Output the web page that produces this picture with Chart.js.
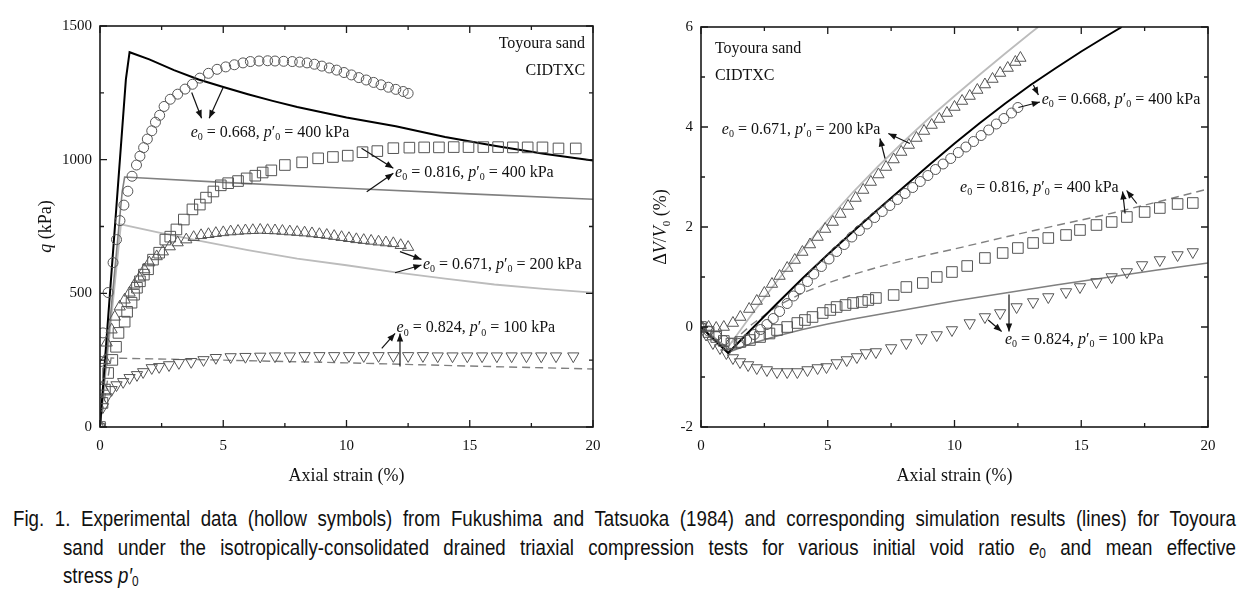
<!DOCTYPE html>
<html>
<head>
<meta charset="utf-8">
<script src="https://cdn.jsdelivr.net/npm/chart.js@4.4.1/dist/chart.umd.min.js"></script>
<style>
  body { margin: 0; background: #fff; width: 1245px; height: 599px; overflow: hidden; position: relative; }
  canvas { position: absolute; top: 0; }
  #cL { left: 0; }
  #cR { left: 620px; }
  .cap { position: absolute; font-family: "Liberation Sans Narrow", "Liberation Sans", Arial, sans-serif;
         font-size: 22px; line-height: 28px; white-space: nowrap; color: #111; }
  .cap span { display: inline-block; transform-origin: 0 0; }
  .cap sub { font-size: 14px; vertical-align: -3px; line-height: 0; }
</style>
</head>
<body>
<canvas id="cL" width="620" height="500"></canvas>
<canvas id="cR" width="625" height="500"></canvas>
<div class="cap" id="l1" style="left:13px;top:505px" data-w="1223"><span>Fig. 1. Experimental data (hollow symbols) from Fukushima and Tatsuoka (1984) and corresponding simulation results (lines) for Toyoura</span></div>
<div class="cap" id="l2" style="left:63px;top:534px" data-w="1173"><span>sand under the isotropically-consolidated drained triaxial compression tests for various initial void ratio <i>e</i><sub>0</sub> and mean effective</span></div>
<div class="cap" id="l3" style="left:63px;top:562px"><span>stress <i>p′</i><sub>0</sub></span></div>
<script>
// --- data: [axial strain %, value] ---
// left panel: deviator stress q (kPa)
const qCircle668 = [[0,0],[0.02,245],[0.12,352],[0.33,503],[0.53,615],[0.67,701],[0.81,772],[0.97,830],[1.13,882],[1.3,938],[1.48,980],[1.62,1013],[1.77,1045],[1.92,1077],[2.1,1108],[2.25,1140],[2.42,1166],[2.6,1199],[2.85,1226],[3.15,1245],[3.45,1264],[3.75,1282],[4.05,1305],[4.4,1323],[4.75,1338],[5.1,1347],[5.45,1355],[5.8,1362],[6.1,1367],[6.45,1369],[6.8,1370],[7.1,1369],[7.45,1368],[7.8,1367],[8.1,1365],[8.4,1362],[8.7,1357],[9.0,1350],[9.3,1343],[9.6,1335],[9.9,1326],[10.2,1317],[10.5,1307],[10.8,1298],[11.1,1289],[11.4,1280],[11.7,1271],[12.0,1263],[12.3,1255],[12.5,1248]];
const qLine668 = [[0,0],[1.05,1300],[1.2,1402],[2,1375],[3,1335],[4,1300],[5,1272],[6,1245],[7,1220],[8,1197],[9,1177],[10,1158],[12,1125],[14,1085],[16,1052],[18,1022],[20,997]];
const qSquare816 = [[0,0],[0.1,90],[0.2,140],[0.33,202],[0.5,251],[0.65,300],[0.75,352],[1.0,394],[1.1,431],[1.28,465],[1.38,495],[1.5,521],[1.62,545],[1.78,570],[1.95,590],[2.15,626],[2.4,652],[2.65,701],[2.85,712],[3.1,739],[3.4,776],[3.75,814],[4.05,832],[4.3,858],[4.6,881],[4.9,904],[5.2,912],[5.6,920],[5.95,930],[6.3,940],[6.6,952],[6.95,960],[7.5,980],[8.2,990],[8.85,1005],[9.45,1010],[10.05,1015],[10.65,1028],[11.25,1032],[11.9,1043],[12.55,1045],[13.15,1046],[13.75,1046],[14.35,1047],[14.95,1047],[15.55,1047],[16.15,1047],[16.75,1046],[17.35,1046],[17.95,1046],[18.6,1042],[19.3,1042]];
const qLine816 = [[0,0],[0.9,880],[1.0,935],[5,915],[10,893],[15,872],[20,852]];
const qTri671 = [[0,0],[0.1,150],[0.2,250],[0.27,315],[0.47,364],[0.6,412],[0.8,450],[1.0,476],[1.2,502],[1.4,532],[1.6,558],[1.8,589],[2.0,615],[2.3,638],[2.55,656],[2.83,675],[3.15,690],[3.5,701],[3.8,710],[4.1,717],[4.4,721],[4.7,725],[5.0,728],[5.3,731],[5.6,733],[5.9,735],[6.2,736],[6.5,737],[6.8,736],[7.1,735],[7.4,733],[7.7,731],[8.0,729],[8.3,727],[8.6,724],[8.9,721],[9.2,718],[9.5,714],[9.8,710],[10.1,706],[10.4,702],[10.7,699],[11.0,696],[11.3,693],[11.6,690],[11.9,687],[12.2,680],[12.5,673]];
const qLine671 = [[0,0],[0.85,758],[2.4,727],[4,697],[6,662],[8,630],[10,605],[12,578],[14,555],[16,533],[18,517],[20,503]];
const qTriDown824 = [[0,0],[0.12,75],[0.27,112],[0.47,139],[0.67,157],[0.94,169],[1.2,184],[1.5,195],[1.75,206],[2.1,221],[2.4,225],[2.8,232],[3.2,240],[3.7,244],[4.2,251],[4.7,259],[5.3,262],[5.9,263],[6.5,264],[7.1,265],[7.7,265],[8.3,266],[8.9,266],[9.5,266],[10.1,266],[10.7,266],[11.3,266],[11.9,266],[12.5,266],[13.1,266],[13.7,265],[14.3,265],[14.9,265],[15.5,265],[16.1,265],[16.7,265],[17.3,265],[17.9,265],[18.5,265],[19.2,265]];
const qLine824 = [[0,0],[0.45,258],[5,250],[10,240],[15,228],[20,217]];

// right panel: volumetric strain dV/V0 (%)
const vCircle668 = [[0,0],[0.3,-0.08],[0.6,-0.18],[0.9,-0.27],[1.2,-0.33],[1.5,-0.33],[1.8,-0.26],[2.1,-0.15],[2.35,-0.05],[2.6,0.05],[2.85,0.17],[3.1,0.31],[3.4,0.47],[3.65,0.62],[3.9,0.76],[4.2,0.91],[4.45,1.06],[4.75,1.21],[5.05,1.36],[5.35,1.51],[5.65,1.65],[5.95,1.8],[6.25,1.93],[6.55,2.06],[6.85,2.19],[7.15,2.31],[7.45,2.43],[7.75,2.55],[8.05,2.67],[8.35,2.79],[8.65,2.91],[8.95,3.03],[9.25,3.15],[9.55,3.26],[9.85,3.37],[10.15,3.49],[10.45,3.6],[10.75,3.71],[11.05,3.83],[11.35,3.94],[11.65,4.06],[11.95,4.17],[12.25,4.28],[12.5,4.39]];
const vLine668 = [[0,0],[1.07,-0.52],[2,-0.04],[3,0.47],[4,0.97],[5,1.45],[6,1.91],[7,2.36],[8,2.8],[9,3.24],[10,3.67],[11,4.08],[12,4.47],[13,4.84],[14,5.18],[15,5.51],[16,5.82],[16.6,6.0]];
const vSquare816 = [[0,0],[0.3,-0.1],[0.6,-0.2],[0.9,-0.28],[1.2,-0.33],[1.55,-0.3],[1.93,-0.26],[2.33,-0.2],[2.7,-0.13],[3.0,-0.06],[3.4,0],[3.8,0.08],[4.1,0.14],[4.4,0.2],[4.8,0.28],[5.1,0.34],[5.35,0.4],[5.7,0.44],[6.0,0.48],[6.35,0.5],[6.6,0.54],[6.9,0.58],[7.6,0.64],[8.1,0.8],[8.75,0.88],[9.3,1.0],[9.9,1.1],[10.5,1.22],[11.2,1.38],[11.9,1.48],[12.5,1.58],[13.1,1.68],[13.7,1.78],[14.4,1.84],[14.95,1.94],[15.6,2.04],[16.2,2.1],[16.8,2.2],[17.5,2.3],[18.1,2.38],[18.8,2.46],[19.4,2.48]];
const vLine816 = [[0,0],[1.0,-0.4],[2,0.05],[3,0.42],[4,0.68],[5,0.88],[6,1.05],[7,1.2],[8,1.33],[9,1.45],[10,1.56],[12,1.8],[14,2.03],[16,2.25],[18,2.5],[20,2.76]];
const vTri671 = [[0,0],[0.3,0],[0.6,-0.02],[0.9,0],[1.26,0.08],[1.55,0.2],[1.9,0.36],[2.2,0.52],[2.5,0.68],[2.8,0.86],[3.1,1.02],[3.4,1.18],[3.7,1.34],[4.0,1.5],[4.3,1.65],[4.6,1.8],[4.9,1.96],[5.2,2.1],[5.5,2.26],[5.8,2.42],[6.1,2.58],[6.4,2.74],[6.7,2.9],[7.0,3.05],[7.3,3.2],[7.6,3.35],[7.9,3.5],[8.2,3.64],[8.5,3.78],[8.8,3.92],[9.1,4.04],[9.4,4.16],[9.7,4.28],[10.0,4.4],[10.3,4.52],[10.6,4.62],[10.9,4.74],[11.2,4.85],[11.5,4.96],[11.8,5.08],[12.1,5.18],[12.4,5.3],[12.6,5.38]];
const vLine671 = [[0,0],[1.0,-0.45],[2,0.25],[3,0.92],[4,1.55],[5,2.14],[6,2.7],[7,3.22],[8,3.71],[9,4.18],[10,4.62],[11,5.05],[12,5.47],[13,5.88],[13.3,6.0]];
const vTriDown824 = [[0,0],[0.2,-0.15],[0.47,-0.32],[0.75,-0.42],[1.0,-0.52],[1.26,-0.62],[1.54,-0.7],[1.86,-0.76],[2.2,-0.82],[2.6,-0.86],[3.0,-0.9],[3.4,-0.9],[3.8,-0.9],[4.2,-0.86],[4.6,-0.82],[4.95,-0.8],[5.35,-0.72],[5.75,-0.66],[6.15,-0.6],[6.5,-0.52],[6.9,-0.5],[7.5,-0.42],[8.1,-0.32],[8.7,-0.22],[9.3,-0.16],[9.9,-0.06],[10.6,0.08],[11.2,0.2],[11.8,0.28],[12.45,0.4],[13.1,0.5],[13.7,0.6],[14.4,0.7],[14.95,0.8],[15.6,0.9],[16.2,1.0],[16.8,1.1],[17.4,1.24],[18.1,1.34],[18.8,1.44],[19.4,1.5]];
const vLine824 = [[0,0],[1.1,-0.5],[2,-0.33],[3,-0.18],[4,-0.05],[5,0.06],[6,0.16],[7,0.25],[8,0.34],[9,0.43],[10,0.52],[12,0.68],[14,0.84],[16,0.99],[18,1.14],[20,1.28]];

// axis ranges / ticks
const strainRange = [0, 20], strainStep = 5, strainMinor = 2.5;
const qRange = [0, 1500], qStep = 500, qMinor = 250;
const vRange = [-2, 6], vStep = 2, vMinor = 1;

// test labels: void ratio, p'0 (kPa)
const testE0 = { c668: '0.668', s816: '0.816', t671: '0.671', d824: '0.824' };
const testP0 = { c668: 400, s816: 400, t671: 200, d824: 100 };

const SERIF = '"Liberation Serif", "Times New Roman", serif';

function lab(k) {
  return [{t:'e',i:1},{t:'0',s:1},{t:' = ' + testE0[k] + ', '},{t:'p',i:1},{t:'′'},{t:'0',s:1},{t:' = ' + testP0[k] + ' kPa'}];
}

function drawRich(ctx, segs, x, y, size, align) {
  const fontOf = s => (s.i ? 'italic ' : '') + (s.s ? Math.round(size * 0.62) : size) + 'px ' + SERIF;
  let w = 0;
  for (const s of segs) { ctx.font = fontOf(s); w += ctx.measureText(s.t).width; }
  let cx = align === 'right' ? x - w : align === 'center' ? x - w / 2 : x;
  ctx.textAlign = 'left';
  ctx.textBaseline = 'alphabetic';
  ctx.fillStyle = '#111';
  for (const s of segs) {
    ctx.font = fontOf(s);
    ctx.fillText(s.t, cx, y + size * 0.33 + (s.s ? size * 0.22 : 0));
    cx += ctx.measureText(s.t).width;
  }
}

function arrow(ctx, x1, y1, x2, y2) {
  ctx.beginPath(); ctx.moveTo(x1, y1); ctx.lineTo(x2, y2); ctx.stroke();
  const a = Math.atan2(y2 - y1, x2 - x1), L = 8, W = 3.2;
  ctx.beginPath();
  ctx.moveTo(x2, y2);
  ctx.lineTo(x2 - L * Math.cos(a) + W * Math.sin(a), y2 - L * Math.sin(a) - W * Math.cos(a));
  ctx.lineTo(x2 - L * Math.cos(a) - W * Math.sin(a), y2 - L * Math.sin(a) + W * Math.cos(a));
  ctx.closePath(); ctx.fill();
}

// frame, inward ticks, axis titles and annotations
const deco = {
  id: 'deco',
  afterDraw(chart, args, o) {
    const ctx = chart.ctx, a = chart.chartArea, xs = chart.scales.x, ys = chart.scales.y;
    ctx.save();
    ctx.strokeStyle = '#1a1a1a';
    ctx.lineWidth = 1.6;
    ctx.strokeRect(a.left, a.top, a.right - a.left, a.bottom - a.top);
    ctx.lineWidth = 1.3;
    for (let v = xs.min; v <= xs.max + 1e-9; v += o.xMinor) {
      const len = Math.abs(v / o.xMajor - Math.round(v / o.xMajor)) < 1e-6 ? 7 : 4;
      const p = xs.getPixelForValue(v);
      ctx.beginPath();
      ctx.moveTo(p, a.bottom); ctx.lineTo(p, a.bottom - len);
      ctx.moveTo(p, a.top); ctx.lineTo(p, a.top + len);
      ctx.stroke();
    }
    for (let v = ys.min; v <= ys.max + 1e-9; v += o.yMinor) {
      const len = Math.abs(v / o.yMajor - Math.round(v / o.yMajor)) < 1e-6 ? 7 : 4;
      const p = ys.getPixelForValue(v);
      ctx.beginPath();
      ctx.moveTo(a.left, p); ctx.lineTo(a.left + len, p);
      ctx.moveTo(a.right, p); ctx.lineTo(a.right - len, p);
      ctx.stroke();
    }
    // axis titles
    drawRich(ctx, o.xTitle, (a.left + a.right) / 2, a.bottom + 48, 18, 'center');
    ctx.save();
    ctx.translate(a.left + o.yTitleOffset, (a.top + a.bottom) / 2);
    ctx.rotate(-Math.PI / 2);
    drawRich(ctx, o.yTitle, 0, 0, 18, 'center');
    ctx.restore();
    // notes
    ctx.fillStyle = '#111';
    ctx.strokeStyle = '#111';
    ctx.lineWidth = 1.2;
    for (const n of o.notes) {
      drawRich(ctx, n.segs, xs.getPixelForValue(n.at[0]), ys.getPixelForValue(n.at[1]), 16, n.align || 'left');
      for (const r of (n.arrows || [])) {
        ctx.fillStyle = '#111';
        arrow(ctx, xs.getPixelForValue(r[0]), ys.getPixelForValue(r[1]), xs.getPixelForValue(r[2]), ys.getPixelForValue(r[3]));
      }
    }
    ctx.restore();
  }
};

const pts = arr => arr.map(p => ({ x: p[0], y: p[1] }));
const sym = (data, style, r, rot) => ({
  data: pts(data), showLine: false, pointStyle: style, pointRadius: r, pointHoverRadius: r,
  pointRotation: rot || 0, pointBorderColor: '#555', pointBackgroundColor: 'rgba(0,0,0,0)', pointBorderWidth: 1
});
const curve = (data, color, width, dash) => ({
  data: pts(data), showLine: true, borderColor: color, borderWidth: width, borderDash: dash || [],
  pointRadius: 0, pointHoverRadius: 0, fill: false, tension: 0
});

function axisOpts(range, step, pad, fit) {
  return {
    type: 'linear', min: range[0], max: range[1],
    afterFit: fit,
    grid: { display: false, drawTicks: false },
    border: { display: false },
    ticks: { stepSize: step, padding: pad, color: '#111', maxRotation: 0,
             format: { useGrouping: false }, font: { family: SERIF, size: 15 } }
  };
}

function makeChart(id, datasets, yRange, yStep, yMinor, padding, yWidth, deco0) {
  return new Chart(document.getElementById(id), {
    type: 'scatter',
    data: { datasets },
    options: {
      responsive: false, animation: false, events: [],
      layout: { padding },
      plugins: { legend: { display: false }, tooltip: { enabled: false },
        deco: Object.assign({ xMajor: strainStep, xMinor: strainMinor, yMajor: yStep, yMinor: yMinor }, deco0) },
      scales: {
        x: axisOpts(strainRange, strainStep, 10, s => { s.height = 60; }),
        y: axisOpts(yRange, yStep, 8, s => { s.width = yWidth; })
      }
    },
    plugins: [deco]
  });
}

const xTitle = [{ t: 'Axial strain (%)' }];

makeChart('cL', [
  sym(qCircle668, 'circle', 5),
  sym(qSquare816, 'rect', 7.5),
  sym(qTri671, 'triangle', 6.5),
  sym(qTriDown824, 'triangle', 6.5, 180),
  curve(qLine668, '#000', 2),
  curve(qLine816, '#808080', 1.6),
  curve(qLine671, '#bcbcbc', 1.8),
  curve(qLine824, '#808080', 1.4, [8, 5])
], qRange, qStep, qMinor, { left: 31, right: 27, top: 26, bottom: 13 }, 69, {
  xTitle, yTitle: [{ t: 'q', i: 1 }, { t: ' (kPa)' }], yTitleOffset: -55,
  notes: [
    { segs: [{ t: 'Toyoura sand' }], at: [19.68, 1437], align: 'right' },
    { segs: [{ t: 'CIDTXC' }], at: [19.68, 1336], align: 'right' },
    { segs: lab('c668'), at: [3.68, 1105], arrows: [[3.72, 1251, 4.12, 1155], [5.0, 1271, 4.43, 1155]] },
    { segs: lab('s816'), at: [11.97, 955], arrows: [[10.61, 1043, 11.9, 968], [10.82, 880, 11.9, 949]] },
    { segs: lab('t671'), at: [13.1, 612], arrows: [[12.17, 656, 13.04, 627], [11.97, 577, 13.04, 606]] },
    { segs: lab('d824'), at: [12.03, 375], arrows: [[11.43, 294, 11.97, 350], [12.17, 226, 12.17, 350]] }
  ]
});

makeChart('cR', [
  sym(vCircle668, 'circle', 5),
  sym(vSquare816, 'rect', 7.5),
  sym(vTri671, 'triangle', 6.5),
  sym(vTriDown824, 'triangle', 6.5, 180),
  curve(vLine668, '#000', 2),
  curve(vLine671, '#bcbcbc', 1.8),
  curve(vLine816, '#808080', 1.4, [8, 5]),
  curve(vLine824, '#808080', 1.6)
], vRange, vStep, vMinor, { left: 26, right: 37, top: 27, bottom: 13 }, 55, {
  xTitle, yTitle: [{ t: 'Δ' }, { t: 'V', i: 1 }, { t: '/' }, { t: 'V', i: 1 }, { t: '0', s: 1 }, { t: ' (%)' }], yTitleOffset: -41,
  notes: [
    { segs: [{ t: 'Toyoura sand' }], at: [0.55, 5.59] },
    { segs: [{ t: 'CIDTXC' }], at: [0.55, 5.05] },
    { segs: lab('t671'), at: [0.82, 3.97], arrows: [[8.24, 3.67, 7.39, 3.87], [7.26, 3.37, 7.06, 3.77]] },
    { segs: lab('c668'), at: [13.44, 4.57], arrows: [[12.52, 4.39, 13.37, 4.5], [13.11, 4.84, 13.31, 4.64]] },
    { segs: lab('s816'), at: [10.22, 2.81], arrows: [[16.73, 2.27, 16.63, 2.71], [17.19, 2.47, 16.79, 2.73]] },
    { segs: lab('d824'), at: [11.99, -0.23], arrows: [[11.33, 0.14, 11.86, -0.09], [12.15, 0.65, 12.15, -0.09]] }
  ]
});

// caption: condensed sans, lines spread to their target width
const capSqueeze = 0.85;
for (const d of document.querySelectorAll('.cap')) {
  const span = d.querySelector('span');
  const natural = span.getBoundingClientRect().width;
  let k = capSqueeze;
  if (d.dataset.w) {
    const target = +d.dataset.w;
    if (natural * k < target) {
      const gaps = (span.textContent.match(/ /g) || []).length;
      span.style.wordSpacing = ((target / k - natural) / gaps) + 'px';
    } else {
      k = target / natural;
    }
  }
  span.style.transform = 'scaleX(' + k + ')';
}
</script>
</body>
</html>
